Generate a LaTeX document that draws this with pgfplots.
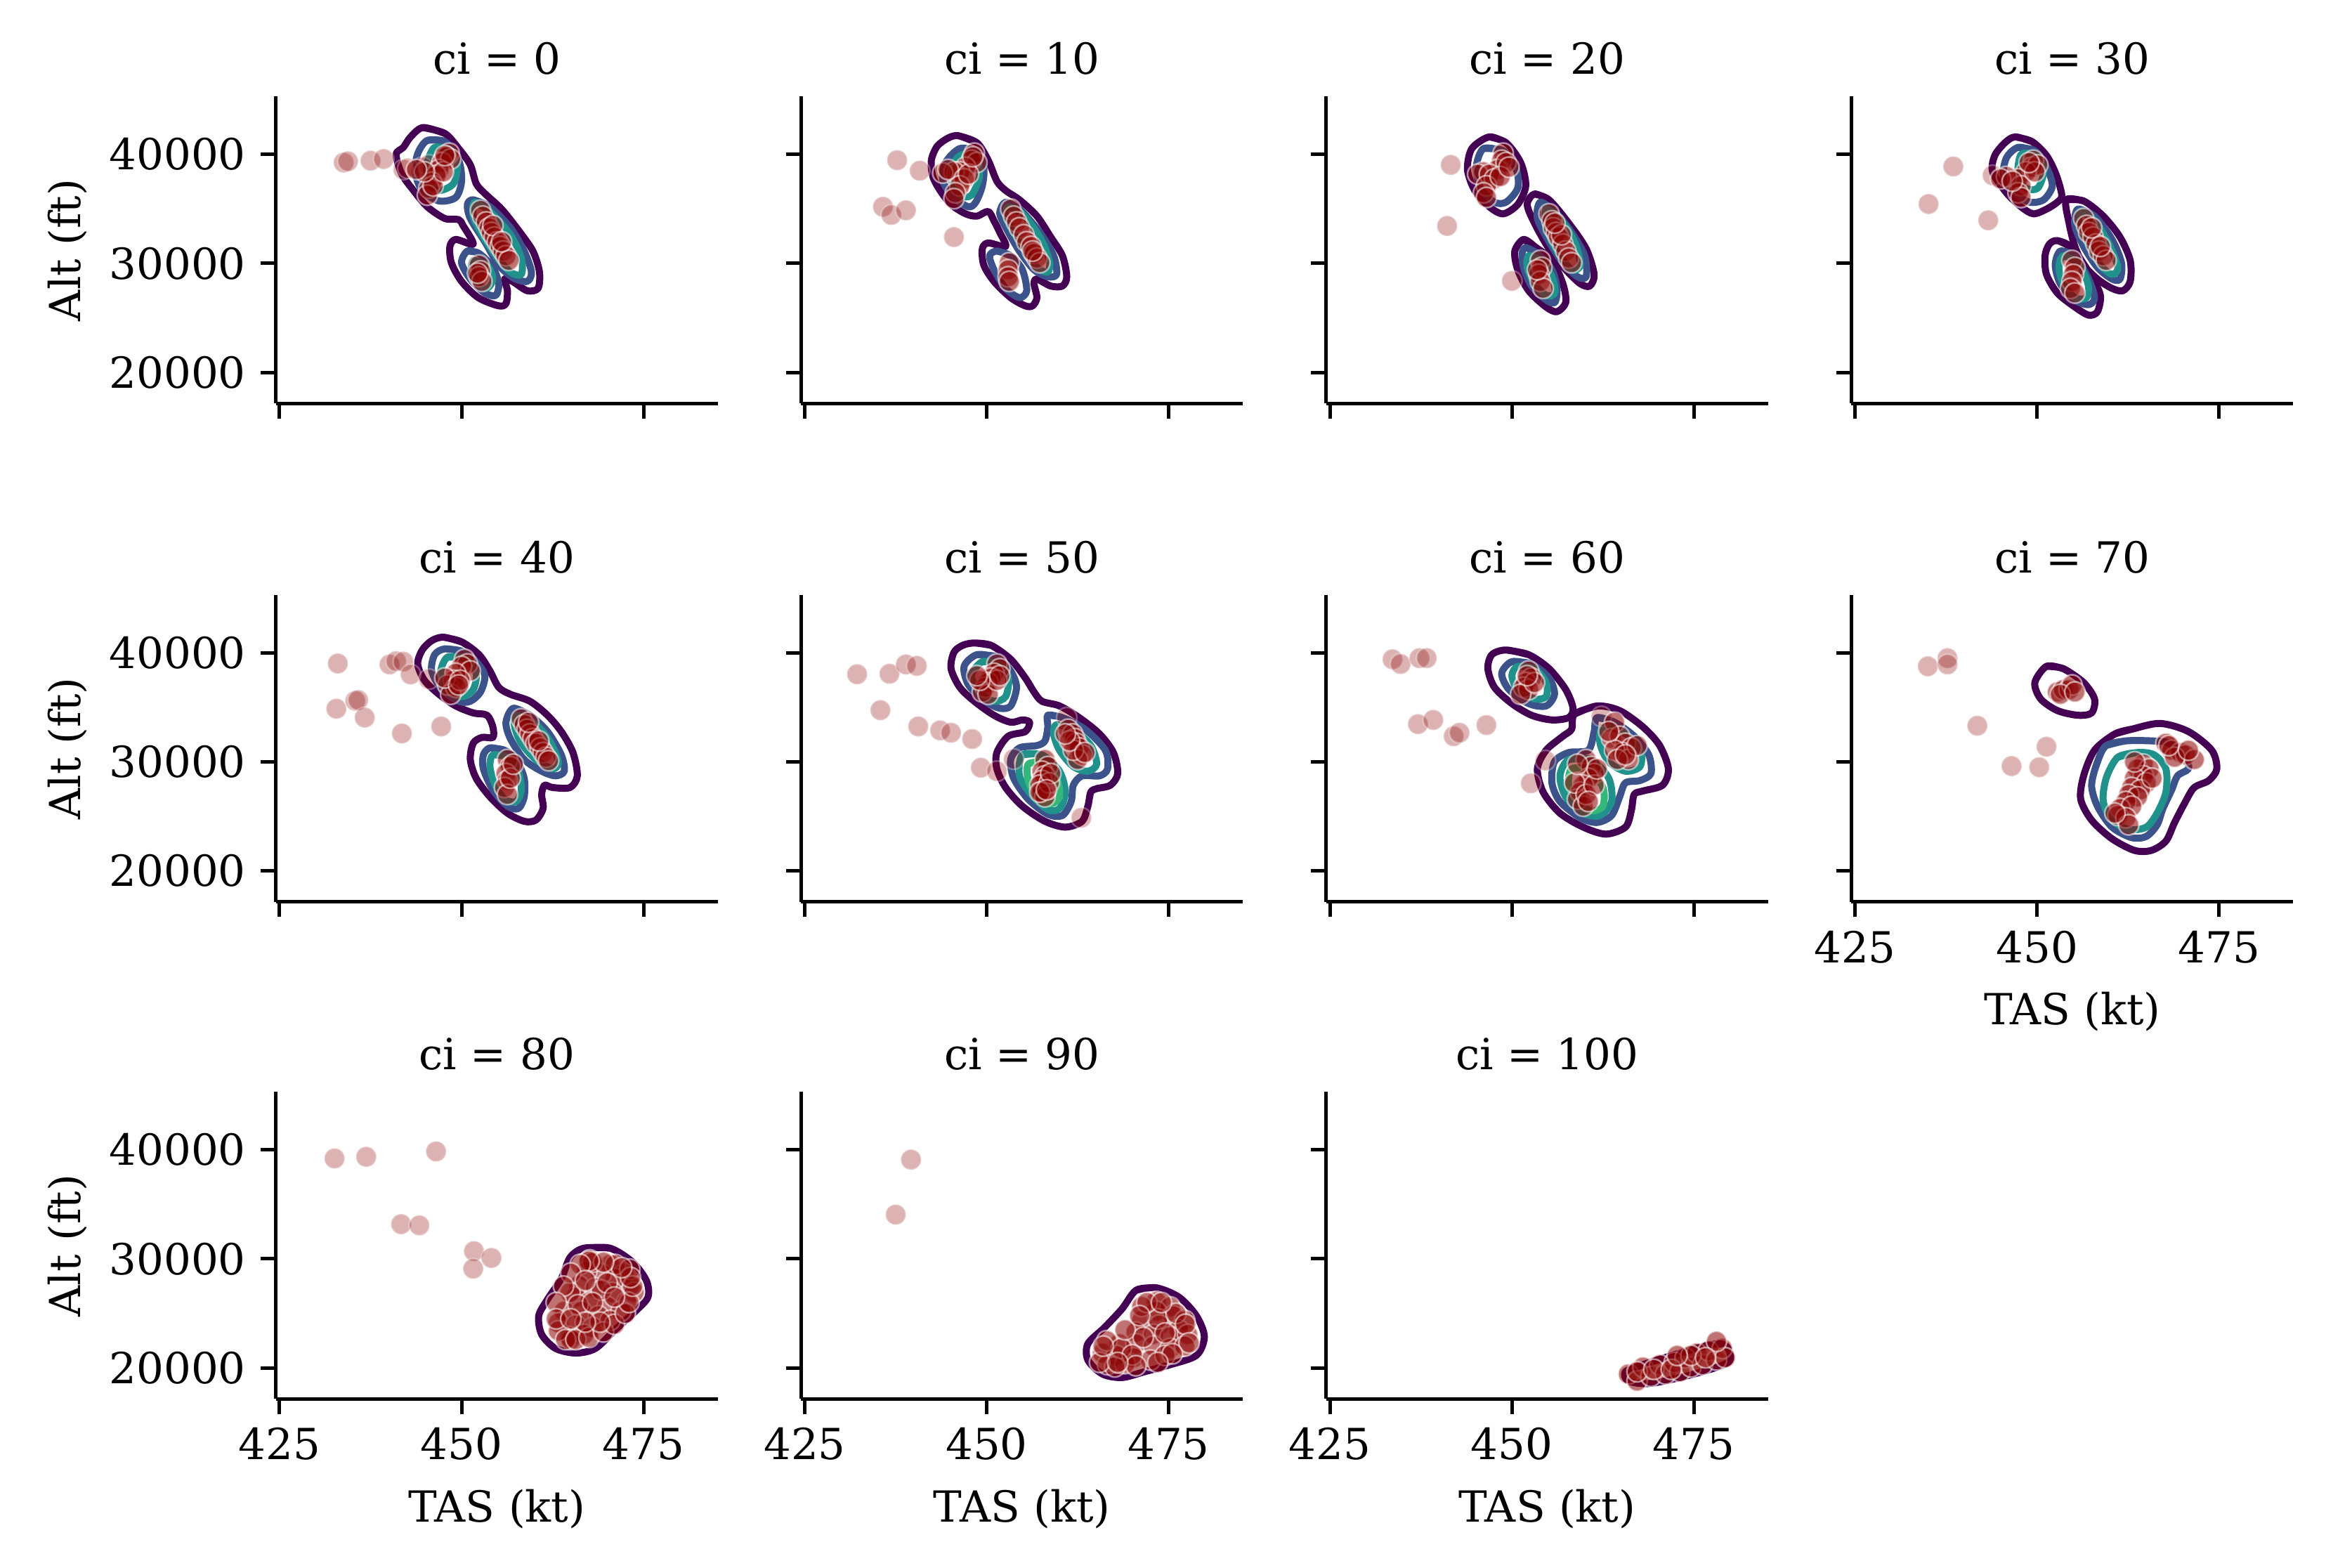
\documentclass[border=0pt]{standalone}
\usepackage{pgfplots}
\pgfplotsset{compat=1.18}
\usepackage{fontspec}
\setmainfont{DejaVu Serif}
\definecolor{vA}{HTML}{440154}
\definecolor{vB}{HTML}{3B528B}
\definecolor{vC}{HTML}{21918C}
\definecolor{vD}{HTML}{35B779}
\definecolor{ptred}{HTML}{8B0000}
\newcommand{\fs}{\fontsize{12.2}{14.5}\selectfont}
\newcommand{\C}[2]{\addplot[ctr,draw=#1] coordinates {#2};}
\newcommand{\PL}[1]{\addplot[ptsL] coordinates {#1};}
\newcommand{\PD}[1]{\addplot[ptsD] coordinates {#1};}
\pgfplotsset{
 ctr/.style={smooth, line width=2pt, line join=round, line cap=round, mark=none},
 ptsL/.style={only marks, mark=*, mark size=2.9pt, mark options={fill=ptred, draw=white, line width=0.5pt, opacity=0.3}},
 ptsD/.style={only marks, mark=*, mark size=2.9pt, mark options={fill=ptred, draw=white, line width=0.5pt, opacity=0.55}},
 panel/.style={scale only axis, width=125.8pt, height=87.4pt, anchor=south west,
  xmin=424.5, xmax=485.2, ymin=17150, ymax=45300,
  axis x line*=bottom, axis y line*=left,
  axis line style={-, line width=1pt, black},
  xtick={425,450,475}, ytick={20000,30000,40000},
  tick align=outside, major tick length=4.3pt,
  tick style={line width=1pt, black},
  scaled x ticks=false, scaled y ticks=false,
  /pgf/number format/1000 sep={},
  /pgf/number format/assume math mode=true,
  tick label style={font=\fs},
  label style={font=\fs},
  xticklabel style={anchor=base, yshift=-13pt},
  yticklabel style={anchor=east, inner sep=0pt, xshift=-4.1pt},
  title style={font=\fs, at={(axis description cs:0.5,1)}, anchor=base, yshift=0.3pt},
  xlabel style={at={(axis description cs:0.5,0)}, anchor=base, yshift=-35pt},
  ylabel style={at={(axis description cs:-0.443,0.5)}, anchor=base},
 },
 nox/.style={xticklabels={}},
 noy/.style={yticklabels={}},
}
\begin{document}
\begin{tikzpicture}
\useasboundingbox (0,0) rectangle (662.2pt,446.4pt);
% ---------- ci = 0
\begin{axis}[panel, at={(78.56pt,331.5pt)}, title={ci = 0}, nox, ylabel={Alt (ft)}]
\C{vA}{(444.7,42460)(447.7,41920)(449.6,40530)(451.2,39040)(452.0,37330)(453.1,36470)(455.5,34980)(457.8,33050)(459.8,31130)(460.7,29210)(460.5,27710)(459.0,27500)(457.0,28350)(455.9,28570)(456.3,27500)(456.1,26320)(455.1,26110)(452.3,26860)(450.0,28350)(448.6,30060)(448.4,31560)(449.2,32200)(451.6,31770)(450.2,33480)(449.6,34020)(447.7,34120)(445.3,35190)(443.4,36690)(441.8,38180)(441.0,40000)(442.0,40640)(443.0,41600)(444.7,42460)(447.7,41920)}
\C{vB}{(445.3,41282)(447.7,41175)(449.6,39466)(450.0,37542)(449.2,36047)(446.9,35726)(444.6,36688)(443.6,38397)(444.0,40107)(445.3,41282)(447.7,41175)}
\C{vB}{(451.6,35833)(453.9,35192)(456.7,33268)(458.6,31131)(459.6,29208)(459.0,28353)(457.1,28674)(455.1,29849)(453.2,31986)(451.2,34123)(450.8,35406)(451.6,35833)(453.9,35192)}
\C{vB}{(450.8,31131)(452.4,30918)(454.3,29636)(455.1,28140)(454.7,27071)(453.2,27285)(451.2,28567)(450.0,30063)(450.8,31131)(452.4,30918)}
\C{vC}{(446.3,40641)(448.3,40427)(449.4,39038)(448.9,37329)(446.9,36688)(445.3,37542)(445.3,39252)(446.3,40641)(448.3,40427)}
\C{vC}{(451.8,35619)(453.9,34764)(456.7,32627)(458.2,30490)(458.2,28994)(456.7,29208)(454.7,30704)(452.8,32627)(451.6,34337)(451.8,35619)(453.9,34764)}
\C{vC}{(451.6,30277)(453.5,29849)(454.3,28567)(453.5,27712)(452.2,28140)(451.4,29208)(451.6,30277)(453.5,29849)}
\PL{(433.8,39250)(434.4,39360)(437.5,39420)(439.3,39570)(442.0,38610)(442.6,38718)(444.6,38825)(445.5,39038)}
\PD{(448.3,40107)(447.9,39787)(447.3,39252)(448.5,39573)(446.9,38611)(446.5,38077)(445.9,37436)(445.5,36902)(445.3,36260)(446.1,37115)(447.5,38397)(447.7,39893)(444.9,38397)(443.8,38611)
(452.6,34871)(452.9,34337)(453.4,33803)(453.8,33268)(454.1,32841)(454.5,32414)(454.9,31986)(455.3,31559)(455.7,31131)(456.1,30704)(456.5,30277)(454.3,33482)(455.5,31986)
(452.4,29849)(452.6,29315)(452.4,28781)(452.8,28353)(452.2,29102)}
\end{axis}
% ---------- ci = 10
\begin{axis}[panel, at={(228.06pt,331.5pt)}, title={ci = 10}, nox, noy]
\C{vA}{(446.1,41710)(448.65,41069)(450.2,39466)(451.4,37542)(452.6,36688)(454.5,35833)(456.9,34337)(458.8,32414)(460.4,30704)(461.0,28781)(460.4,27926)(458.8,27926)(456.9,28567)(456.5,28140)(456.9,26858)(456.3,26110)(455.3,26110)(453.3,26858)(451.0,28353)(449.6,29849)(449.4,31345)(450.2,31879)(452.6,31559)(451.8,32841)(451.0,33910)(450.2,34764)(448.65,34337)(447.1,34550)(445.1,35406)(443.6,36688)(442.6,37970)(442.4,39466)(443.2,40748)(444.7,41496)(446.1,41710)(448.65,41069)}
\C{vB}{(446.3,40534)(448.65,40320)(449.6,38825)(449.4,37115)(448.5,35619)(447.5,35192)(445.5,36047)(444.0,37542)(444.35,39252)(446.3,40534)(448.65,40320)}
\C{vB}{(452.6,35619)(454.5,34978)(457.3,32841)(459.2,30704)(459.6,28994)(458.4,28781)(456.5,29422)(454.5,31131)(453.0,32841)(451.8,34550)(452.6,35619)(454.5,34978)}
\C{vB}{(451.4,31131)(453.3,30704)(454.9,29422)(455.5,27499)(454.5,26858)(452.6,27712)(451.0,29422)(450.4,30704)(451.4,31131)(453.3,30704)}
\C{vC}{(452.95,35192)(454.9,34550)(457.3,32414)(458.6,30277)(458.4,29208)(456.9,29636)(455.1,31345)(453.5,33055)(452.6,34337)(452.95,35192)(454.9,34550)}
\C{vC}{(446.7,40000)(448.65,39680)(449.0,37970)(447.9,36260)(446.3,36260)(445.1,37756)(445.5,39252)(446.7,40000)(448.65,39680)}
\PL{(437.7,39466)(440.8,38504)(435.75,35192)(436.9,34444)(438.9,34871)(445.5,32414)}
\PD{(448.3,40107)(447.9,39466)(448.65,39252)(447.1,38825)(446.3,38397)(445.5,38397)(443.96,38290)(444.7,38611)(446.9,37756)(446.3,37115)(445.7,36474)(445.5,35940)(447.5,38184)(448.1,39787)
(453.3,34978)(453.7,34337)(454.1,33803)(454.5,33268)(455.1,32627)(455.5,31986)(456.1,31559)(456.5,30918)(456.9,30490)(457.3,30063)(456.3,31131)
(453.1,30063)(452.95,29422)(452.95,28781)(453.1,28353)}
\end{axis}
% ---------- ci = 20
\begin{axis}[panel, at={(377.58pt,331.5pt)}, title={ci = 20}, nox, noy]
\C{vA}{(446.9,41603)(449.2,41069)(451.2,39252)(451.9,37115)(450.8,35406)(448.8,34550)(446.9,35192)(444.9,36688)(443.9,38611)(444.5,40534)(446.9,41603)(449.2,41069)}
\C{vA}{(453.1,36367)(455.1,35833)(457.8,33696)(460.2,31345)(461.3,28994)(460.7,27926)(459.4,28140)(457.4,29422)(455.1,31345)(453.1,33696)(452.1,35406)(453.1,36367)(455.1,35833)}
\C{vA}{(451.6,32200)(453.1,31559)(455.5,30277)(457.0,28140)(457.4,26430)(456.2,25575)(454.7,26003)(452.3,27499)(450.8,29422)(450.4,31131)(451.6,32200)(453.1,31559)}
\C{vB}{(446.1,40534)(448.8,40320)(450.6,38611)(450.8,36902)(449.2,35619)(447.6,35619)(445.7,36902)(445.1,38825)(446.1,40534)(448.8,40320)}
\C{vB}{(453.9,35619)(455.9,34764)(458.2,32841)(460.0,30704)(460.2,28781)(459.0,28781)(457.0,30063)(455.1,31986)(453.5,34123)(453.9,35619)(455.9,34764)}
\C{vB}{(451.9,31452)(453.5,30918)(455.5,29422)(456.2,27712)(455.9,26430)(454.7,26644)(452.7,27926)(451.6,29636)(451.4,30918)(451.9,31452)(453.5,30918)}
\C{vC}{(452.3,30704)(453.9,30277)(455.5,28781)(455.9,27285)(454.7,27071)(453.1,28140)(452.1,29636)(452.3,30704)(453.9,30277)}
\C{vC}{(454.7,34978)(456.6,34123)(458.6,31986)(459.4,29849)(458.2,29422)(456.2,31131)(454.7,33268)(454.7,34978)(456.6,34123)}
\PL{(441.6,39038)(441.1,33440)(450.0,28396)}
\PD{(448.8,40107)(448.6,39466)(448.0,38611)(449.2,39252)(446.1,38397)(445.3,38184)(446.9,38184)(447.6,37756)(446.5,37115)(446.1,36474)(446.5,36047)(448.4,37970)(449.6,38825)
(455.1,34550)(455.5,33910)(455.7,33268)(456.1,32841)(456.4,32414)(457.0,31773)(457.4,31131)(457.8,30490)(458.2,30063)(456.8,32627)(455.9,33696)
(453.9,30277)(454.1,29636)(453.7,29004)(453.9,28353)(454.3,27712)(453.5,29422)}
\end{axis}
% ---------- ci = 30
\begin{axis}[panel, at={(527.08pt,331.5pt)}, title={ci = 30}, nox, noy]
\C{vA}{(447.0,41603)(449.3,41175)(451.3,39893)(452.6,38184)(453.4,36260)(452.8,35619)(451.3,34978)(449.5,34550)(447.8,35192)(445.8,36474)(443.9,38397)(444.2,39893)(445.6,41069)(447.0,41603)(449.3,41175)}
\C{vA}{(454.0,35833)(456.4,35726)(459.1,34337)(461.4,32414)(462.8,30277)(462.8,28353)(461.8,27499)(460.3,27712)(458.3,28567)(456.4,29849)(455.2,31559)(454.4,33696)(454.0,35833)(456.4,35726)}
\C{vA}{(452.8,32093)(454.8,31452)(457.5,28781)(458.7,27071)(458.3,25575)(457.1,25255)(455.2,26003)(452.8,27285)(451.3,28994)(451.1,30704)(451.7,31773)(452.8,32093)(454.8,31452)}
\C{vB}{(447.4,40641)(449.7,40320)(451.3,38825)(452.1,37115)(450.9,35833)(448.9,35619)(447.0,36474)(445.4,37970)(445.8,39680)(447.4,40641)(449.7,40320)}
\C{vB}{(455.6,34978)(457.9,34337)(460.3,32200)(461.6,30063)(461.4,28567)(460.3,28567)(458.3,29636)(456.4,31559)(455.2,33482)(455.6,34978)(457.9,34337)}
\C{vB}{(453.2,31131)(455.2,30704)(457.1,28567)(457.9,26858)(457.1,26217)(455.2,26644)(453.2,28140)(452.5,29849)(453.2,31131)(455.2,30704)}
\C{vC}{(453.6,30704)(455.6,30063)(457.0,28140)(456.8,26858)(455.2,26858)(453.6,28140)(453.0,29636)(453.6,30704)(455.6,30063)}
\C{vC}{(448.2,40107)(450.1,39893)(450.9,38397)(450.1,36902)(448.5,36902)(447.4,38184)(447.6,39680)(448.2,40107)(450.1,39893)}
\C{vC}{(456.0,34764)(457.9,33910)(459.9,31773)(461.1,29636)(460.3,28994)(458.7,29849)(456.8,31986)(455.8,33696)(456.0,34764)(457.9,33910)}
\PL{(438.5,38889)(435.1,35448)(443.3,33952)(443.9,38077)}
\PD{(449.5,39466)(449.3,38825)(450.1,39038)(448.5,38397)(447.4,37756)(445.8,37970)(445.0,37756)(447.8,37115)(447.4,36474)(447.8,36047)(446.6,37542)(449.7,38397)(448.9,39252)
(456.4,34123)(456.8,33482)(457.1,32841)(457.7,32414)(458.1,31773)(458.5,31131)(459.1,30704)(459.5,30277)(457.5,33268)(458.7,31559)
(454.8,30277)(455.2,29636)(455.0,28994)(454.8,28353)(454.6,27712)(455.2,27285)}
\end{axis}
% ---------- ci = 40
\begin{axis}[panel, at={(78.56pt,189.6pt)}, title={ci = 40}, nox, ylabel={Alt (ft)}]
\C{vA}{(447.5,41432)(450.0,41004)(452.4,39829)(453.9,38333)(455.1,36838)(456.7,36196)(459.4,35555)(461.8,34273)(463.7,32777)(465.3,30854)(465.9,28717)(464.9,27648)(462.5,27648)(461.4,27862)(461.0,27007)(461.2,25725)(460.2,24656)(458.6,24550)(456.3,25297)(453.9,26793)(452.0,28503)(451.2,30212)(451.6,31708)(452.8,32243)(454.3,32243)(454.3,33204)(453.5,34273)(451.6,34487)(449.2,35128)(446.9,36196)(444.9,37478)(443.97,38974)(444.6,40257)(445.9,41111)(447.5,41432)(450.0,41004)}
\C{vB}{(447.7,40363)(450.0,40150)(452.0,39188)(453.2,37906)(452.6,36410)(451.2,35555)(449.6,35555)(447.3,36624)(445.9,38333)(446.3,39829)(447.7,40363)(450.0,40150)}
\C{vB}{(457.1,34914)(459.4,34273)(461.8,32777)(463.7,30640)(464.1,29144)(462.9,28717)(461.0,29144)(458.6,30212)(456.7,32136)(456.1,33632)(457.1,34914)(459.4,34273)}
\C{vB}{(453.9,31281)(455.9,31067)(457.5,30212)(458.6,28503)(458.6,26793)(457.8,25725)(456.3,25938)(454.3,27434)(453.0,29358)(453.0,30640)(453.9,31281)(455.9,31067)}
\C{vC}{(448.1,39615)(450.8,39402)(452.0,38120)(451.6,36624)(450.0,35982)(448.1,36624)(447.1,38120)(448.1,39615)(450.8,39402)}
\C{vC}{(457.5,34273)(460.2,33418)(462.1,31922)(463.3,29999)(462.5,29358)(460.2,30212)(458.2,31708)(457.3,33204)(457.5,34273)(460.2,33418)}
\C{vC}{(454.3,30640)(456.3,30426)(457.8,29144)(458.2,27434)(457.5,26366)(455.9,26579)(454.5,28076)(453.9,29571)(454.3,30640)(456.3,30426)}
\PL{(433.0,39017)(440.1,38932)(441.0,39231)(442.0,39188)(443.0,38013)(445.5,37585)(432.8,34872)(435.4,35598)(435.8,35662)(436.7,34059)(441.8,32606)(447.2,33247)}
\PD{(450.4,39402)(450.8,38974)(450.0,38760)(451.2,38333)(449.2,38120)(448.9,37478)(448.1,37051)(449.2,36838)(448.5,36196)(447.7,37692)(449.8,37478)(449.6,37051)
(458.2,33952)(458.6,33418)(459.0,32990)(459.4,32563)(459.8,32136)(460.2,31708)(460.8,31281)(461.2,30854)(461.6,30426)(461.95,30105)(459.2,33632)(460.6,31922)
(456.3,30212)(456.7,29571)(456.1,28930)(456.3,28289)(455.9,27648)(456.3,27007)(456.7,28503)(457.1,29785)}
\end{axis}
% ---------- ci = 50
\begin{axis}[panel, at={(228.06pt,189.6pt)}, title={ci = 50}, nox, noy]
\C{vA}{(448.3,40898)(450.6,40684)(453.3,39402)(455.3,37692)(456.5,36410)(457.6,35555)(460.0,35128)(462.7,34059)(465.5,32563)(467.4,30854)(468.0,28930)(467.0,27862)(465.1,27541)(464.3,27221)(463.9,25938)(463.1,24550)(460.8,24015)(458.0,24550)(454.9,25938)(452.6,27648)(451.4,29358)(451.4,30854)(452.95,32350)(455.3,32777)(455.9,33632)(454.9,33845)(453.3,33632)(451.0,34273)(448.3,35555)(446.3,36838)(445.1,38547)(445.5,40043)(446.7,40684)(448.3,40898)(450.6,40684)}
\C{vB}{(448.65,39829)(451.4,39615)(453.3,38333)(454.1,36838)(453.3,35128)(451.8,34914)(449.8,35555)(447.5,37051)(446.9,38760)(448.65,39829)(451.4,39615)}
\C{vB}{(458.4,34273)(460.4,34059)(463.5,32990)(466.3,31067)(466.6,29358)(465.5,28717)(463.1,28717)(461.9,27862)(461.6,26366)(460.4,25083)(458.4,25190)(455.7,26579)(453.7,28503)(453.3,30212)(454.5,31281)(456.9,31495)(458.0,31922)(458.4,33204)(458.4,34273)(460.4,34059)}
\C{vC}{(449.4,39188)(451.8,38974)(453.0,37692)(452.6,35982)(451.0,35555)(449.0,36410)(447.9,37906)(449.4,39188)(451.8,38974)}
\C{vC}{(459.6,33418)(461.9,32990)(464.3,31495)(465.1,29785)(463.9,29144)(461.9,29571)(460.0,31067)(459.2,32563)(459.6,33418)(461.9,32990)}
\C{vC}{(454.9,30640)(457.6,30640)(460.0,29144)(460.8,27221)(460.0,25725)(458.4,25618)(456.1,27007)(454.5,28717)(454.9,30640)(457.6,30640)}
\C{vD}{(455.7,29785)(457.6,29999)(459.6,28503)(460.0,26793)(458.8,26152)(456.9,26793)(455.7,28289)(455.7,29785)(457.6,29999)}
\PL{(432.2,38034)(436.65,38077)(438.9,38932)(440.4,38803)(435.4,34743)(440.6,33247)(443.6,32884)(445.1,32670)(448.0,32093)(449.2,29465)(451.4,29144)(453.7,30255)(461.0,34059)(463.0,24870)}
\PD{(451.4,38974)(451.8,38547)(451.0,38120)(450.6,37692)(450.2,37265)(449.8,36838)(449.4,36410)(450.2,36196)(451.4,37478)(451.8,37906)(449.05,37478)(448.65,37906)
(461.2,32990)(461.8,32563)(462.1,32136)(462.3,31708)(462.7,31281)(463.1,30640)(462.5,30212)(461.9,31067)(461.4,31922)(460.8,32563)(463.5,30854)
(458.0,30212)(458.4,29571)(457.6,29144)(458.0,28717)(457.6,28289)(457.3,27862)(457.5,27221)(458.0,26793)(458.6,28076)(458.8,28930)(457.3,27221)(458.2,27434)}
\end{axis}
% ---------- ci = 60
\begin{axis}[panel, at={(377.58pt,189.6pt)}, title={ci = 60}, nox, noy]
\C{vA}{(449.2,40257)(452.3,39829)(455.1,38547)(457.4,36624)(458.4,34914)(457.8,34059)(455.5,33845)(452.7,34273)(450.0,35342)(447.6,36838)(446.7,38547)(447.25,39829)(449.2,40257)(452.3,39829)}
\C{vA}{(458.6,34380)(461.7,35128)(464.8,34701)(468.0,33204)(470.3,31495)(471.5,29358)(470.7,27862)(468.0,27328)(466.8,27007)(466.4,25511)(465.6,24015)(462.9,23374)(459.8,24015)(456.6,25297)(454.3,27221)(453.5,29358)(454.7,31067)(457.0,32350)(458.2,32990)(458.6,34380)(461.7,35128)}
\C{vB}{(450.0,39188)(452.7,38974)(455.1,37692)(455.85,36196)(454.7,35128)(452.3,35342)(449.6,36624)(448.6,38120)(450.0,39188)(452.7,38974)}
\C{vB}{(461.7,34059)(464.1,33632)(466.8,32350)(468.8,30640)(469.1,28930)(467.6,28289)(465.6,28076)(464.8,26793)(463.7,25083)(461.7,24443)(459.4,24870)(456.6,26366)(455.5,28076)(455.85,30015)(457.8,30854)(460.5,31067)(461.3,32777)(461.7,34059)(464.1,33632)}
\C{vC}{(450.8,38760)(453.1,38547)(454.7,37265)(454.7,35982)(453.1,35769)(450.8,36624)(450.0,37906)(450.8,38760)(453.1,38547)}
\C{vC}{(462.5,33204)(465.2,32777)(467.6,31067)(467.6,29571)(465.6,29144)(463.3,30000)(462.1,31708)(462.5,33204)(465.2,32777)}
\C{vC}{(457.8,30212)(460.9,30212)(463.3,28503)(463.7,26366)(462.1,25083)(459.8,25297)(457.4,26793)(456.6,28717)(457.8,30212)(460.9,30212)}
\C{vD}{(458.2,29358)(460.5,29358)(462.5,27648)(462.5,25938)(460.9,25511)(459.0,26366)(457.8,27862)(458.2,29358)(460.5,29358)}
\PL{(433.6,39402)(434.7,38974)(437.3,39509)(438.3,39509)(437.1,33461)(439.2,33845)(442.0,32350)(442.8,32670)(446.5,33375)(454.6,30127)(452.6,28033)(462.3,34166)}
\PD{(452.3,38333)(452.7,37692)(451.9,37265)(451.6,36838)(452.3,36624)(451.2,36196)(453.1,37265)(452.1,37906)
(464.1,33632)(463.7,32136)(464.8,32350)(465.6,31708)(466.4,31281)(465.2,30854)(464.1,31067)(466.0,30212)(467.2,31495)(464.5,30212)(465.6,30640)(463.3,32777)
(460.2,30212)(460.9,29571)(461.3,28930)(460.5,28503)(459.8,27862)(459.4,27221)(459.0,26579)(459.8,25938)(458.6,28076)(460.2,27007)(461.3,27862)(461.7,29358)(459.0,29785)(460.5,26366)}
\end{axis}
% ---------- ci = 70
\begin{axis}[panel, at={(527.08pt,189.6pt)}, title={ci = 70}, noy, xlabel={TAS (kt)}]
\C{vA}{(451.3,38760)(453.6,38547)(456.4,37265)(457.9,35769)(457.5,34487)(455.6,34273)(452.8,34701)(450.5,35769)(449.7,37265)(451.3,38760)(453.6,38547)}
\C{vA}{(460.7,32563)(463.0,32990)(466.9,33525)(470.8,32777)(474.0,31067)(474.7,29358)(473.6,28289)(471.6,27648)(470.4,26366)(468.9,24443)(467.7,22733)(465.7,21878)(463.4,21878)(460.3,22947)(457.5,24656)(456.0,26579)(456.4,28717)(457.9,31067)(460.7,32563)(463.0,32990)}
\C{vB}{(459.5,31495)(462.2,31922)(465.75,31922)(468.1,31708)(470.4,30212)(470.8,29358)(469.3,28717)(468.5,27434)(467.3,25725)(466.5,24229)(465.0,23160)(463.0,23053)(460.3,24015)(458.3,25938)(457.5,27862)(458.3,29999)(459.5,31495)(462.2,31922)}
\C{vC}{(461.1,30426)(463.8,30854)(466.1,30640)(467.7,29358)(467.7,27221)(466.5,25297)(465.0,24015)(462.6,23801)(460.3,24656)(459.1,26366)(459.5,28503)(461.1,30426)(463.8,30854)}
\PL{(435.0,38760)(437.7,39509)(437.7,38932)(441.8,33311)(451.3,31388)(446.5,29614)(450.3,29507)}
\PD{(452.8,36410)(453.6,36624)(454.4,36624)(454.8,37051)(453.2,36196)(455.2,36410)
(467.7,31708)(468.5,31067)(469.7,30854)(470.4,30640)(471.6,30212)(468.9,30426)(468.1,31495)(470.8,31067)
(464.6,29785)(463.8,29358)(465.4,29358)(464.6,28717)(463.4,28503)(465.0,28076)(463.0,27648)(464.2,27434)(462.6,27007)(463.8,26793)(462.2,26366)(461.4,25725)(463.0,25938)(461.1,25083)(462.2,24870)(462.6,24229)(460.7,25297)(465.8,28503)(463.4,29999)}
\end{axis}
% ---------- ci = 80
\begin{axis}[panel, at={(78.56pt,48.1pt)}, title={ci = 80}, ylabel={Alt (ft)}, xlabel={TAS (kt)}]
\C{vA}{(466.8,30982)(470.4,30982)(473.5,29700)(475.4,27990)(475.6,26494)(473.9,25212)(471.1,23502)(468.4,21793)(465.7,21365)(462.9,21793)(461.0,23075)(460.6,24784)(461.8,26280)(463.7,28204)(464.9,30127)(466.8,30982)(470.4,30982)}
\PL{(432.55,39209)(436.9,39359)(446.5,39850)(441.7,33183)(444.2,33076)(451.7,30704)(454.1,30084)(451.6,29101)}
\PD{(467.6,29914)(470.4,29486)(472.3,28631)(473.1,27563)(473.7,26922)(471.1,28204)(469.2,28631)(467.2,28845)(466.1,27563)(468.4,27349)(470.7,26922)(472.7,26067)(465.7,26494)(467.6,26067)(470.0,25640)(471.9,25212)(464.1,25212)(466.5,25212)(468.8,24785)(463.3,24143)(465.7,23930)(468.0,23716)(470.4,24357)(464.9,22861)(466.8,23075)(465.0,22600)(471.1,29486)(473.1,29059)(468.0,29700)(464.9,26921)(469.2,27135)
(463.3,23400)(464.3,22600)(465.7,22600)(467.5,22800)(469.5,23300)(471.0,24000)(472.5,25000)(473.0,26000)(473.5,27500)(473.2,28300)(472.0,29200)(469.5,29700)(467.5,29800)(466.3,29500)(465.0,28700)(464.0,27500)(463.0,26000)(463.0,24500)(466.0,25800)(468.0,26000)(470.0,27800)(467.0,28000)(471.0,26500)(469.0,24200)(467.0,24200)(465.0,24500)}
\end{axis}
% ---------- ci = 90
\begin{axis}[panel, at={(228.06pt,48.1pt)}, title={ci = 90}, noy, xlabel={TAS (kt)}]
\C{vA}{(470.55,27134)(473.3,27349)(476.4,26494)(478.8,24784)(479.9,22861)(478.8,21151)(475.2,20297)(471.7,19655)(468.6,19121)(465.9,19442)(463.9,20724)(463.9,22220)(466.2,23716)(468.6,25426)(470.55,27134)(473.3,27349)}
\PL{(439.6,39102)(437.5,34059)}
\PD{(473.3,26100)(475.2,25600)(473.3,25212)(475.6,24784)(477.2,24357)(471.3,24357)(473.7,23930)(476.4,23502)(470.5,23288)(472.9,23075)(475.2,22861)(477.6,23075)(468.2,22220)(470.5,22220)(472.9,22006)(475.2,21793)(477.2,22006)(465.9,21365)(467.8,21151)(470.2,20938)(472.5,20724)(466.6,20297)(469.0,20400)(467.6,20100)(465.5,20510)(471.3,25639)(474.5,21151)
(466.5,22500)(468.5,21800)(470.0,21200)(471.5,22800)(473.5,24500)(474.5,23200)(476.0,25000)(477.3,24000)(477.8,22300)(475.5,21300)(473.5,20500)(470.5,20200)(468.0,20500)(466.0,22000)(472.0,26000)(474.0,26000)(469.0,23500)(471.0,24800)}
\end{axis}
% ---------- ci = 100
\begin{axis}[panel, at={(377.58pt,48.1pt)}, title={ci = 100}, noy, xlabel={TAS (kt)}]
\C{vA}{(465.6,19655)(468.0,20297)(473.1,21365)(478.1,22220)(479.7,21793)(479.7,20510)(475.0,19442)(469.1,18587)(466.0,18801)(465.6,19655)(468.0,20297)}
\PD{(466.0,19442)(467.2,18801)(468.0,20083)(469.1,19228)(470.3,20297)(471.1,19442)(472.3,20510)(473.1,19655)(473.8,20938)(474.6,20083)(475.4,21365)(476.2,20297)(477.0,21579)(478.1,20724)(478.9,21793)(479.3,20938)(478.1,22434)(467.2,19655)(469.5,19869)(471.9,19869)(474.6,21151)(476.6,20938)(472.7,21151)}
\end{axis}
\end{tikzpicture}
\end{document}
